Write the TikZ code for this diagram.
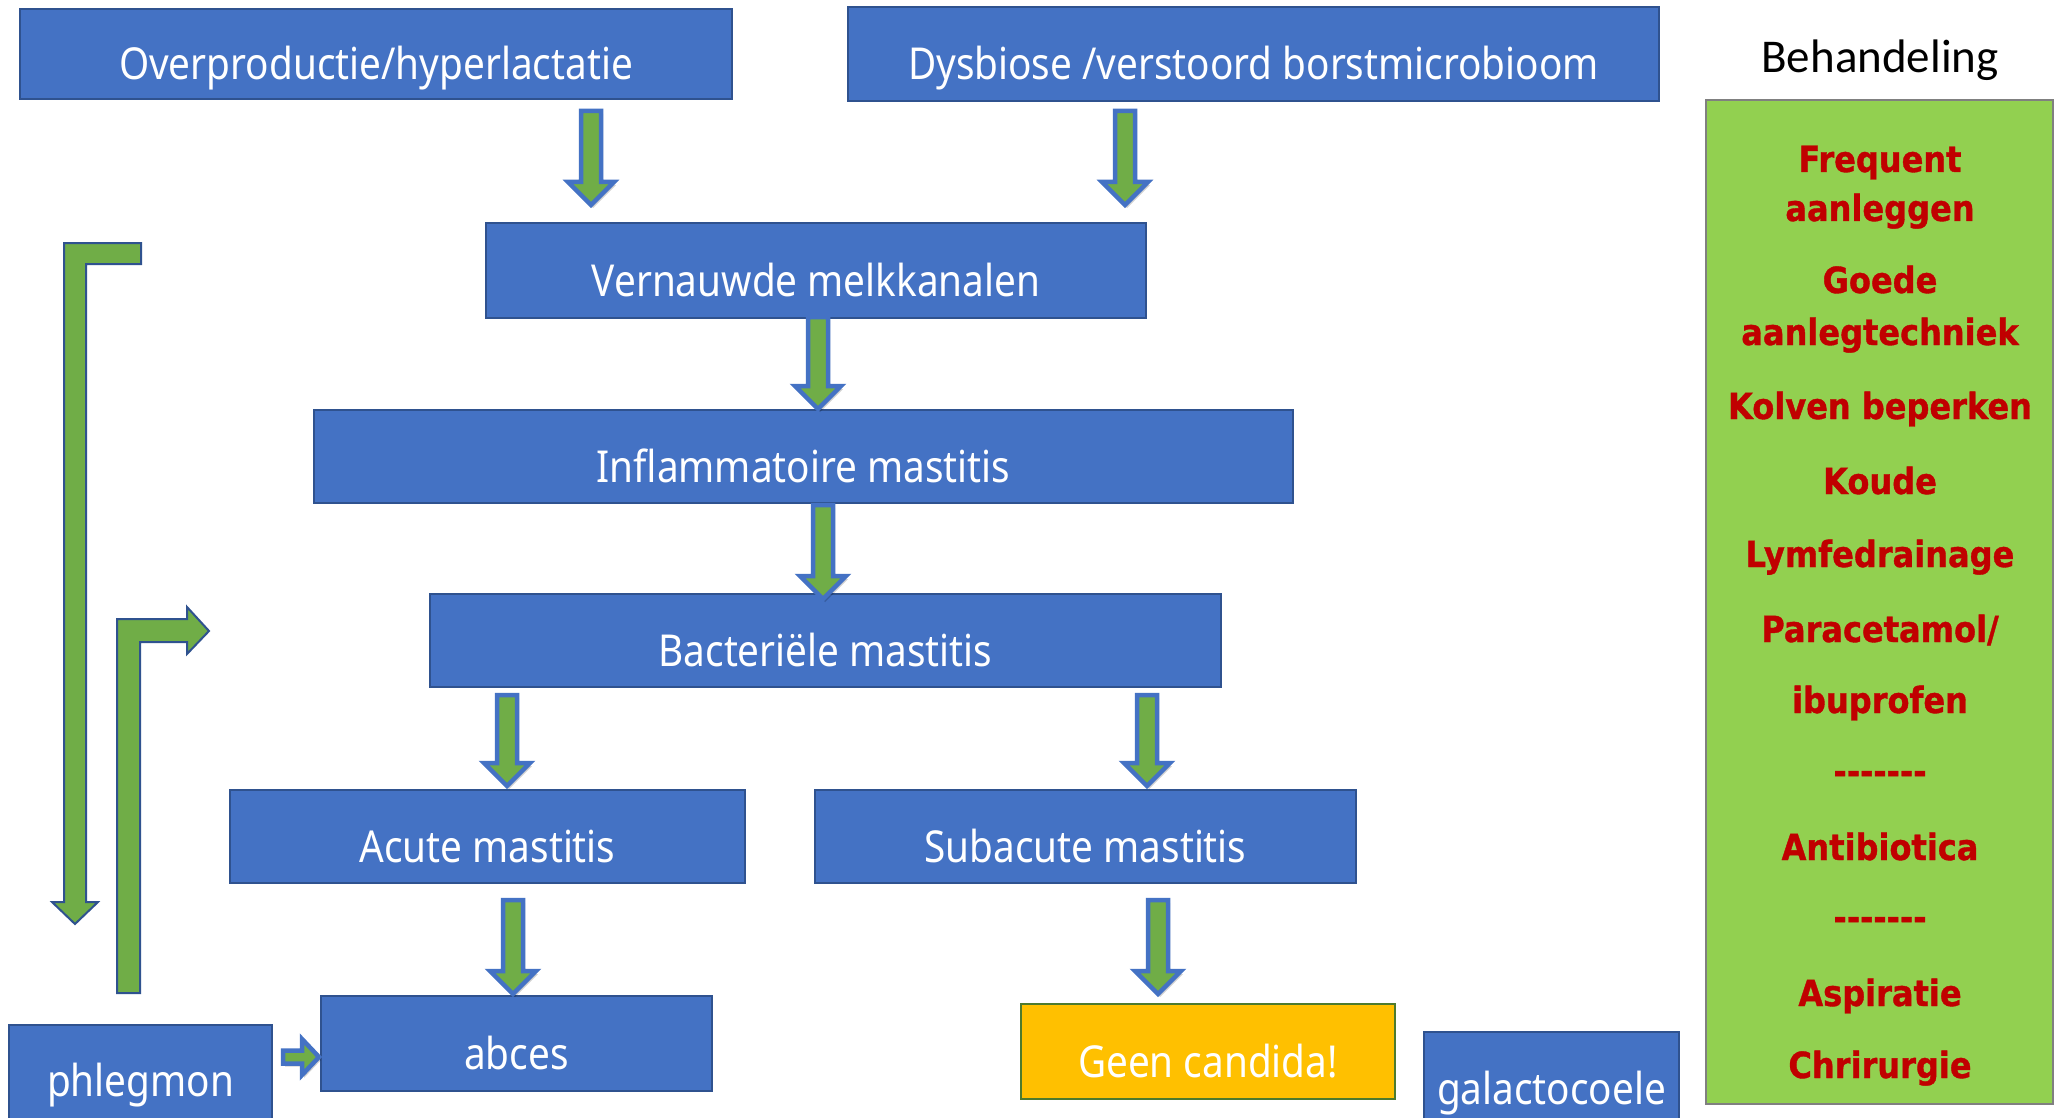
\documentclass[tikz,border=0pt]{standalone}
\usepackage{fontspec}
\setmainfont{Noto Sans}
\newfontfamily\boxfont[FakeStretch=0.88]{Noto Sans}
\newfontfamily\headfont{Carlito}
\newfontfamily\redfont[FakeStretch=0.89,BoldFeatures={FakeBold=1}]{DejaVu Sans}
\usetikzlibrary{calc,shadows}

\definecolor{boxblue}{HTML}{4472C4}
\definecolor{boxedge}{HTML}{2F528F}
\definecolor{arrowgreen}{HTML}{70AD47}
\definecolor{panelgreen}{HTML}{92D050}
\definecolor{paneledge}{HTML}{808080}
\definecolor{warnyellow}{HTML}{FFC000}
\definecolor{warnedge}{HTML}{4E7A2E}
\definecolor{treatred}{HTML}{C00000}

% vertical block arrow from #1 (top of shaft) to #2 (tip)
\newcommand\downblock[2]{%
  \filldraw[blockarrow] let \p1=(#1), \p2=(#2) in
    (\x1-10pt,\y1) -- (\x1+10pt,\y1) -- (\x1+10pt,\y2+23pt) -- (\x1+23pt,\y2+23pt)
    -- (\x2,\y2) -- (\x1-23pt,\y2+23pt) -- (\x1-10pt,\y2+23pt) -- cycle;}
% horizontal block arrow from #1 (tail) to #2 (tip)
\newcommand\rightblock[2]{%
  \filldraw[blockarrow] let \p1=(#1), \p2=(#2) in
    (\x1,\y1+6.5pt) -- (\x2-17pt,\y1+6.5pt) -- (\x2-17pt,\y1+18pt) -- (\x2,\y2)
    -- (\x2-17pt,\y1-18pt) -- (\x2-17pt,\y1-6.5pt) -- (\x1,\y1-6.5pt) -- cycle;}

\begin{document}
\begin{tikzpicture}[x=1pt,y=-1pt,
  box/.style={draw=boxedge, line width=2pt, fill=boxblue, text=white,
    font=\boxfont\fontsize{44}{50}\selectfont, inner sep=0pt,
    text height=52pt, text depth=0pt},
  warnbox/.style={box, fill=warnyellow, draw=warnedge},
  blockarrow/.style={draw=boxblue, line width=4.5pt, fill=arrowgreen, line join=miter,
    drop shadow={shadow xshift=2pt, shadow yshift=-3pt, opacity=0.18, fill=black}},
  looparrow/.style={draw=boxedge, line width=2pt, fill=arrowgreen, line join=miter},
  panel/.style={draw=paneledge, line width=2.5pt, fill=panelgreen, inner sep=0pt},
  headtxt/.style={font=\headfont\fontsize{47}{54}\selectfont, text=black, anchor=base, inner sep=0pt},
  redtxt/.style={font=\redfont\bfseries\fontsize{36}{42}\selectfont, text=treatred, anchor=base, inner sep=0pt}]

\useasboundingbox (0,0) rectangle (2061,1118);
\clip (0,0) rectangle (2061,1118);
\fill[white] (0,0) rectangle (2061,1118);

% flow chart boxes
\node[box, minimum width=712pt, minimum height=90pt] (over) at (376,54) {Overproductie/hyperlactatie};
\node[box, minimum width=811pt, minimum height=94pt] (dys) at (1253.5,54) {Dysbiose /verstoord borstmicrobioom};
\node[box, minimum width=660pt, minimum height=95pt] (vern) at (816,270.5) {Vernauwde melkkanalen};
\node[box, minimum width=979pt, minimum height=93pt] (infl) at (803.5,456.5) {Inflammatoire mastitis};
\node[box, minimum width=791pt, minimum height=93pt] (bact) at (825.5,640.5) {Bacteriële mastitis};
\node[box, minimum width=515pt, minimum height=93pt] (acute) at (487.5,836.5) {Acute mastitis};
\node[box, minimum width=541pt, minimum height=93pt] (sub) at (1085.5,836.5) {Subacute mastitis};
\node[box, minimum width=391pt, minimum height=95pt] (abces) at (516.5,1043.5) {abces};
\node[warnbox, minimum width=374pt, minimum height=95pt] (cand) at (1208,1051.5) {Geen candida!};
\node[box, minimum width=255pt, minimum height=110pt, text height=34pt] (galac) at (1551.5,1087) {galactocoele};
\node[box, minimum width=263pt, minimum height=110pt, text height=32pt] (phleg) at (140.5,1080) {phlegmon};

% arrow end points
\coordinate (a1s) at (591,111);   \coordinate (a1e) at (591,205);
\coordinate (a2s) at (1125,111);  \coordinate (a2e) at (1125,205);
\coordinate (a3s) at (818,317);   \coordinate (a3e) at (818,409);
\coordinate (a4s) at (823,505);   \coordinate (a4e) at (823,599);
\coordinate (a5s) at (507,695);   \coordinate (a5e) at (507,786);
\coordinate (a6s) at (1147,695);  \coordinate (a6e) at (1147,786);
\coordinate (a7s) at (513,900);   \coordinate (a7e) at (513,994);
\coordinate (a8s) at (1158,900);  \coordinate (a8e) at (1158,994);
\coordinate (phs) at ($(phleg.east|-0,1057)+(10,0)$);
\coordinate (phe) at ($(abces.west|-0,1057)+(-1,0)$);

\downblock{a1s}{a1e}
\downblock{a2s}{a2e}
\downblock{a3s}{a3e}
\downblock{a4s}{a4e}
\downblock{a5s}{a5e}
\downblock{a6s}{a6e}
\downblock{a7s}{a7e}
\downblock{a8s}{a8e}
\rightblock{phs}{phe}

% feedback arrows on the left
\filldraw[looparrow] (64,243) -- (141,243) -- (141,264) -- (86,264) -- (86,902)
  -- (98,902) -- (75,924) -- (52,902) -- (64,902) -- cycle;
\filldraw[looparrow] (117,993) -- (117,619) -- (187,619) -- (187,607) -- (209,631)
  -- (187,654) -- (187,642) -- (140,642) -- (140,993) -- cycle;

% treatment panel
\node[headtxt] (head) at (1880,73) {Behandeling};
\node[panel, minimum width=347pt, minimum height=1004pt] (panel) at (1879.5,602) {};
\node[redtxt] (t1) at (1880,172) {Frequent};
\node[redtxt] (t2) at (1880,221) {aanleggen};
\node[redtxt] (t3) at (1880,293) {Goede};
\node[redtxt] (t4) at (1880,345) {aanlegtechniek};
\node[redtxt] (t5) at (1880,419) {Kolven beperken};
\node[redtxt] (t6) at (1880,494) {Koude};
\node[redtxt] (t7) at (1880,567) {Lymfedrainage};
\node[redtxt] (t8) at (1880,642) {Paracetamol/};
\node[redtxt] (t9) at (1880,713) {ibuprofen};
\node[redtxt] (t10) at (1880,784) {-------};
\node[redtxt] (t11) at (1880,860) {Antibiotica};
\node[redtxt] (t12) at (1880,930) {-------};
\node[redtxt] (t13) at (1880,1006) {Aspiratie};
\node[redtxt] (t14) at (1880,1078) {Chrirurgie};
\end{tikzpicture}
\end{document}
